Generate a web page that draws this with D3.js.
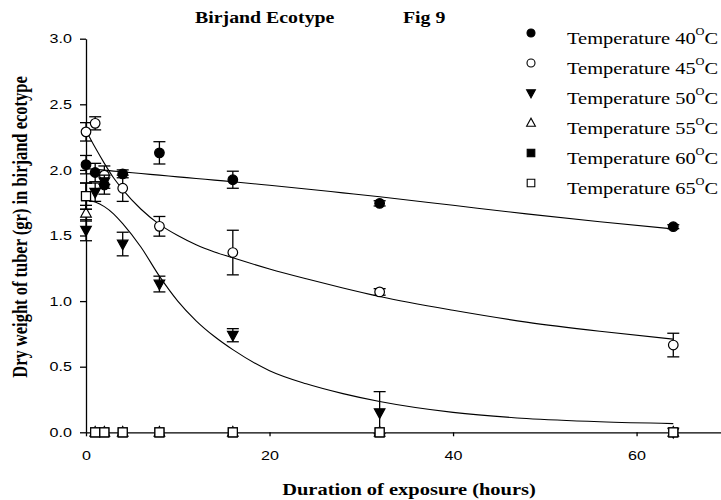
<!DOCTYPE html>
<html>
<head>
<meta charset="utf-8">
<script src="https://cdn.jsdelivr.net/npm/d3@7"></script>
<style>
body { margin: 0; background: #fff; }
</style>
</head>
<body>
<script>

var hours = [0, 1, 2, 4, 8, 16, 32, 64];

var temp40 = [2.04, 1.98, 1.885, 1.97, 2.13, 1.925, 1.745, 1.567];
var err40  = [0.07, 0.07, 0.07, 0.03, 0.085, 0.065, 0.02, 0.015];
var temp45 = [2.29, 2.355, 1.96, 1.86, 1.57, 1.37, 1.07, 0.665];
var err45  = [0.07, 0.05, 0.07, 0.1, 0.075, 0.17, 0.025, 0.09];
var temp50 = [1.54, 1.83, 1.91, 1.435, 1.13, 0.74, 0.15, 0];
var err50  = [0.08, 0.07, 0.05, 0.09, 0.06, 0.05, 0.16, 0];
var temp55 = [1.67, 0, 0, 0, 0, 0, 0, 0];
var err55  = [0.06, 0, 0, 0, 0, 0, 0, 0];
var temp60 = [1.80, 0, 0, 0, 0, 0, 0, 0];
var err60  = [0.1, 0, 0, 0, 0, 0, 0, 0];
var temp65 = [1.80, 0, 0, 0, 0, 0, 0, 0];
var err65  = [0.1, 0, 0, 0, 0, 0, 0, 0];

// fitted curves, points
var fitHours = [0, 1, 2, 3, 4, 6, 8, 10, 12, 14, 16, 20, 24, 28, 32, 40, 48, 56, 64];
var fit40 = [2.01, 2.004, 1.998, 1.991, 1.985, 1.972, 1.96, 1.947, 1.935, 1.922, 1.91, 1.883, 1.855, 1.825, 1.795, 1.73, 1.665, 1.605, 1.55];
var fit45 = [2.30, 2.17, 2.05, 1.94, 1.85, 1.70, 1.585, 1.50, 1.43, 1.375, 1.33, 1.245, 1.17, 1.10, 1.035, 0.93, 0.84, 0.77, 0.71];
var fit50 = [1.77, 1.755, 1.72, 1.665, 1.59, 1.41, 1.19, 1.00, 0.85, 0.73, 0.63, 0.47, 0.37, 0.295, 0.235, 0.152, 0.105, 0.08, 0.066];

var legendLabels = ['40', '45', '50', '55', '60', '65'];
var yTicks = [0, 0.5, 1.0, 1.5, 2.0, 2.5, 3.0];
var xTicks = [0, 20, 40, 60];

// the original figure is stretched sideways, text too
var sx = 1.24;
var serif = '"Liberation Serif", "Times New Roman", serif';
var sans = '"Liberation Sans", Arial, sans-serif';

var series = [
  {vals: temp40, err: err40, shape: 'circle', fill: 'black'},
  {vals: temp45, err: err45, shape: 'circle', fill: 'white'},
  {vals: temp50, err: err50, shape: 'down', fill: 'black'},
  {vals: temp55, err: err55, shape: 'up', fill: 'white'},
  {vals: temp60, err: err60, shape: 'square', fill: 'black'},
  {vals: temp65, err: err65, shape: 'square', fill: 'white'}
];

function markerPath(shape, s) {
  if (shape == 'circle') {
    return 'M ' + (-s) + ' 0 A ' + s + ' ' + s + ' 0 1 0 ' + s + ' 0 A ' + s + ' ' + s + ' 0 1 0 ' + (-s) + ' 0 Z';
  }
  if (shape == 'down') {
    return 'M ' + (-s * 1.1) + ' ' + (-s * 0.8) + ' L ' + (s * 1.1) + ' ' + (-s * 0.8) + ' L 0 ' + (s * 1.2) + ' Z';
  }
  if (shape == 'up') {
    return 'M ' + (-s * 1.1) + ' ' + (s * 0.8) + ' L ' + (s * 1.1) + ' ' + (s * 0.8) + ' L 0 ' + (-s * 1.2) + ' Z';
  }
  return 'M ' + (-s) + ' ' + (-s) + ' h ' + (2 * s) + ' v ' + (2 * s) + ' h ' + (-2 * s) + ' Z';
}

var svg = d3.select('body').append('svg')
      .attr('width', 721)
      .attr('height', 500);

var x = d3.scaleLinear().domain([0, 69.2]).range([86, 721]);
var y = d3.scaleLinear().domain([0, 3]).range([432.3, 38.7]);

// axes
var yAxis = svg.append('g')
    .attr('transform', 'translate(86,0)')
    .call(d3.axisLeft(y).tickValues(yTicks).tickFormat(d3.format('.1f')).tickSize(6).tickSizeOuter(0));

var xAxis = svg.append('g')
    .attr('transform', 'translate(0,432.3)')
    .call(d3.axisBottom(x).tickValues(xTicks).tickSize(4).tickSizeOuter(0));

svg.selectAll('.domain, .tick line')
    .attr('stroke', 'black')
    .attr('stroke-width', 1.3);

yAxis.selectAll('text')
    .attr('x', -11.3)
    .attr('transform', 'scale(' + sx + ',1)')
    .style('font-family', sans)
    .style('font-size', '13px')
    .attr('fill', 'black');

xAxis.selectAll('text')
    .attr('y', 18)
    .attr('transform', 'scale(' + sx + ',1)')
    .style('font-family', sans)
    .style('font-size', '13px')
    .attr('fill', 'black');

// fitted curves
var line = d3.line()
    .x(function(d) { return x(d[0]); })
    .y(function(d) { return y(d[1]); })
    .curve(d3.curveMonotoneX);

[fit40, fit45, fit50].forEach(function(f) {
  svg.append('path')
      .attr('d', line(fitHours.map(function(h, i) { return [h, f[i]]; })))
      .attr('fill', 'none')
      .attr('stroke', 'black')
      .attr('stroke-width', 1.1);
});

// error bars then markers, one series at a time
series.forEach(function(s) {
  var pts = hours.map(function(h, i) { return {h: h, v: s.vals[i], e: s.err[i]}; });
  var bars = svg.append('g').selectAll('g')
      .data(pts.filter(function(d) { return d.e > 0; }))
      .enter().append('g')
      .attr('stroke', 'black')
      .attr('stroke-width', 1.3);
  bars.append('line')
      .attr('x1', function(d) { return x(d.h); })
      .attr('x2', function(d) { return x(d.h); })
      .attr('y1', function(d) { return y(d.v - d.e); })
      .attr('y2', function(d) { return y(d.v + d.e); });
  bars.append('line')
      .attr('x1', function(d) { return x(d.h) - 6; })
      .attr('x2', function(d) { return x(d.h) + 6; })
      .attr('y1', function(d) { return y(d.v + d.e); })
      .attr('y2', function(d) { return y(d.v + d.e); });
  bars.append('line')
      .attr('x1', function(d) { return x(d.h) - 6; })
      .attr('x2', function(d) { return x(d.h) + 6; })
      .attr('y1', function(d) { return y(d.v - d.e); })
      .attr('y2', function(d) { return y(d.v - d.e); });

  svg.append('g').selectAll('path')
      .data(pts)
      .enter().append('path')
      .attr('d', markerPath(s.shape, s.shape == 'square' ? 4.5 : 4.8))
      .attr('transform', function(d) { return 'translate(' + x(d.h) + ',' + y(d.v) + ')'; })
      .attr('fill', s.fill)
      .attr('stroke', 'black')
      .attr('stroke-width', 1.2);
});

// legend
var leg = svg.append('g').selectAll('g')
    .data(series)
    .enter().append('g')
    .attr('transform', function(d, i) { return 'translate(531,' + (33 + i * 30) + ')'; });

leg.append('path')
    .attr('d', function(d) { return markerPath(d.shape, d.shape == 'square' ? 3.8 : 4); })
    .attr('fill', function(d) { return d.fill; })
    .attr('stroke', 'black')
    .attr('stroke-width', 1.1);

var legText = leg.append('text')
    .attr('transform', 'translate(36,11) scale(' + sx + ',1)')
    .style('font-family', serif)
    .style('font-size', '16.5px')
    .attr('fill', 'black');
legText.append('tspan').text(function(d, i) { return 'Temperature ' + legendLabels[i]; });
legText.append('tspan').attr('dy', -9).style('font-size', '10px').text('O');
legText.append('tspan').attr('dy', 9).text('C');

// titles
svg.append('text')
    .attr('transform', 'translate(195,23) scale(' + sx + ',1)')
    .style('font-family', serif)
    .style('font-size', '16px')
    .style('font-weight', 'bold')
    .text('Birjand Ecotype');

svg.append('text')
    .attr('transform', 'translate(403,23) scale(' + sx + ',1)')
    .style('font-family', serif)
    .style('font-size', '16px')
    .style('font-weight', 'bold')
    .text('Fig 9');

svg.append('text')
    .attr('transform', 'translate(409,495) scale(' + sx + ',1)')
    .attr('text-anchor', 'middle')
    .style('font-family', serif)
    .style('font-size', '16.5px')
    .style('font-weight', 'bold')
    .text('Duration of exposure (hours)');

svg.append('text')
    .attr('transform', 'translate(27,227) scale(' + sx + ',1) rotate(-90)')
    .attr('text-anchor', 'middle')
    .style('font-family', serif)
    .style('font-size', '16.5px')
    .style('font-weight', 'bold')
    .text('Dry weight of tuber (gr) in birjand ecotype');

</script>
</body>
</html>
